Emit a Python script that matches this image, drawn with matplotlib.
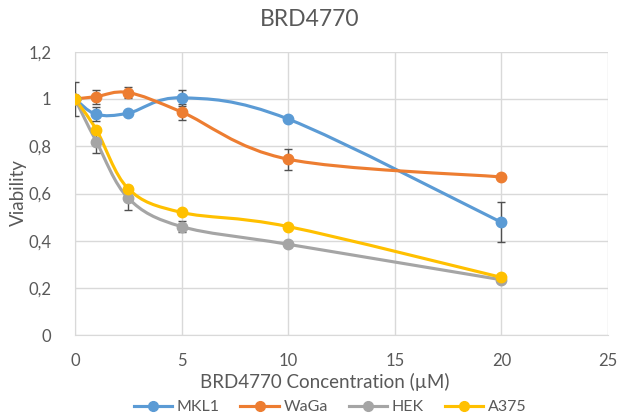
import numpy as np
import matplotlib
matplotlib.use("Agg")
import matplotlib.pyplot as plt
from matplotlib.path import Path
from matplotlib.patches import PathPatch
from matplotlib.lines import Line2D

conc = [0, 1, 2.5, 5, 10, 20]
mkl1 = [1.0, 0.935, 0.94, 1.005, 0.915, 0.478]
mkl1_err = [0.07, 0.03, 0.0, 0.035, 0.0, 0.085]
waga = [1.0, 1.01, 1.027, 0.945, 0.745, 0.67]
waga_err = [0.0, 0.03, 0.025, 0.035, 0.045, 0.0]
hek = [1.0, 0.82, 0.58, 0.46, 0.385, 0.235]
hek_err = [0.0, 0.05, 0.05, 0.025, 0.01, 0.01]
a375 = [1.0, 0.87, 0.62, 0.52, 0.46, 0.245]
a375_err = [0.0, 0.0, 0.0, 0.0, 0.0, 0.0]

names = ["MKL1", "WaGa", "HEK", "A375"]
colors = ["#5B9BD5", "#ED7D31", "#A5A5A5", "#FFC000"]
series = [mkl1, waga, hek, a375]
errs = [mkl1_err, waga_err, hek_err, a375_err]

yticks = [0, 0.2, 0.4, 0.6, 0.8, 1.0, 1.2]
ytick_labels = ["0", "0,2", "0,4", "0,6", "0,8", "1", "1,2"]
xticks = [0, 5, 10, 15, 20, 25]

plt.rcParams['font.family'] = ['Lato', 'DejaVu Sans']
txt = "#595959"

fig = plt.figure(figsize=(6.2, 4.18), dpi=100)
ax = fig.add_axes([75/620, 1-335.3/418, (608-75)/620, (335.3-51.7)/418])


def smooth_path(x, y, t=1/6):
    x = np.asarray(x, float); y = np.asarray(y, float)
    n = len(x)
    verts = [(x[0], y[0])]
    codes = [Path.MOVETO]
    for i in range(n - 1):
        i0 = max(i - 1, 0); i3 = min(i + 2, n - 1)
        c1 = (x[i] + (x[i+1] - x[i0]) * t, y[i] + (y[i+1] - y[i0]) * t)
        c2 = (x[i+1] - (x[i3] - x[i]) * t, y[i+1] - (y[i3] - y[i]) * t)
        verts += [c1, c2, (x[i+1], y[i+1])]
        codes += [Path.CURVE4] * 3
    return Path(verts, codes)


for name, c, s, e in zip(names, colors, series, errs):
    ax.add_patch(PathPatch(smooth_path(conc, s), facecolor='none', edgecolor=c,
                           lw=2.25, zorder=3, capstyle='round'))
    ax.errorbar(conc, s, yerr=e, fmt='none', ecolor='#505050', elinewidth=1.0,
                capsize=3, capthick=1.0, zorder=4)
    ax.plot(conc, s, 'o', color=c, markersize=7.5, zorder=5)

ax.set_xlim(0, 25)
ax.set_ylim(0, 1.2)
ax.set_xticks(xticks)
ax.set_yticks(yticks)
ax.set_yticklabels(ytick_labels)
ax.grid(True, color="#D9D9D9", lw=1.0, zorder=0)
ax.set_axisbelow(True)
for sp in ax.spines.values():
    sp.set_visible(False)
ax.spines['left'].set_visible(True)
ax.spines['bottom'].set_visible(True)
ax.spines['left'].set_color("#D9D9D9")
ax.spines['bottom'].set_color("#D9D9D9")
ax.tick_params(length=0, labelsize=12, colors=txt, pad=13)
ax.tick_params(axis='y', pad=17)

fig.text(325/620, 1-382/418, "BRD4770 Concentration (µM)", ha='center', va='center',
         fontsize=13.5, color=txt)
fig.text(18/620, 1-193/418, "Viability", ha='center', va='center', rotation=90,
         fontsize=13.5, color=txt)
fig.text(0.5, 1-20/418, "BRD4770", ha='center', va='center', fontsize=16.5, color=txt)

handles = [Line2D([0], [0], color=c, lw=2.25, marker='o', markersize=7) for c in colors]
fig.legend(handles, names, loc='center', bbox_to_anchor=(330/620, 1-407/418), ncol=4,
           frameon=False, fontsize=11.5, labelcolor=txt, handlelength=2.4,
           columnspacing=1.3, handletextpad=0.3)

fig.savefig("out.png", dpi=100)
